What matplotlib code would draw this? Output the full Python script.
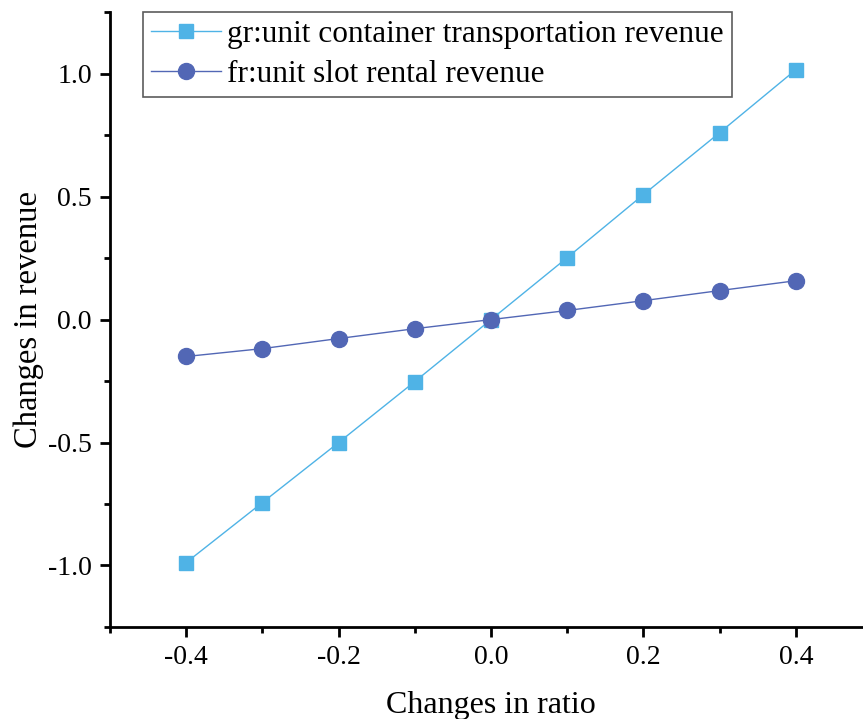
import matplotlib
matplotlib.use('Agg')
import matplotlib.pyplot as plt
from matplotlib.ticker import MultipleLocator

# data
ratio = [-0.4, -0.3, -0.2, -0.1, 0.0, 0.1, 0.2, 0.3, 0.4]
gr_revenue = [-0.988, -0.744, -0.500, -0.252, 0.0, 0.252, 0.508, 0.760, 1.016]
fr_revenue = [-0.150, -0.118, -0.077, -0.037, 0.0, 0.037, 0.077, 0.118, 0.158]
gr_label = "gr:unit container transportation revenue"
fr_label = "fr:unit slot rental revenue"

plt.rcParams['font.family'] = ['Liberation Serif', 'DejaVu Serif']

fig = plt.figure(figsize=(8.63, 7.19), dpi=100)
ax = fig.add_axes([0.1275, 0.128, 0.8829, 0.855])

ax.plot(ratio, gr_revenue, color="#4FB3E6", linewidth=1.0, marker="s",
        markersize=9.5, markeredgecolor="#4FB3E6", label=gr_label)
ax.plot(ratio, fr_revenue, color="#5267B5", linewidth=1.0, marker="o",
        markersize=11.5, markeredgecolor="#5267B5", label=fr_label)

ax.set_xlim(-0.5, 0.5)
ax.set_ylim(-1.25, 1.25)
ax.xaxis.set_major_locator(MultipleLocator(0.2))
ax.xaxis.set_minor_locator(MultipleLocator(0.1))
ax.yaxis.set_major_locator(MultipleLocator(0.5))
ax.yaxis.set_minor_locator(MultipleLocator(0.25))
ax.xaxis.set_major_formatter(plt.FuncFormatter(lambda v, p: f"{v:.1f}".replace("-0.0", "0.0")))
ax.yaxis.set_major_formatter(plt.FuncFormatter(lambda v, p: f"{v:.1f}".replace("-0.0", "0.0")))

for s in ["top", "right"]:
    ax.spines[s].set_visible(False)
for s in ["left", "bottom"]:
    ax.spines[s].set_linewidth(2.0)

ax.tick_params(which="major", direction="out", length=7, width=2.0, labelsize=20, pad=6)
ax.tick_params(which="minor", direction="out", length=4, width=2.0)

ax.set_xlabel("Changes in ratio", fontsize=23, labelpad=15)
ax.set_ylabel("Changes in revenue", fontsize=23.5, labelpad=3)

leg = ax.legend(loc="upper left", bbox_to_anchor=(0.043, 1.0), fontsize=22.5,
                frameon=True, fancybox=False, handlelength=2.25,
                borderpad=0.25, labelspacing=0.36, handletextpad=0.2,
                borderaxespad=0.0)
leg.get_frame().set_edgecolor("#333333")
leg.get_frame().set_linewidth(1.2)

fig.savefig("out.png", dpi=100)
